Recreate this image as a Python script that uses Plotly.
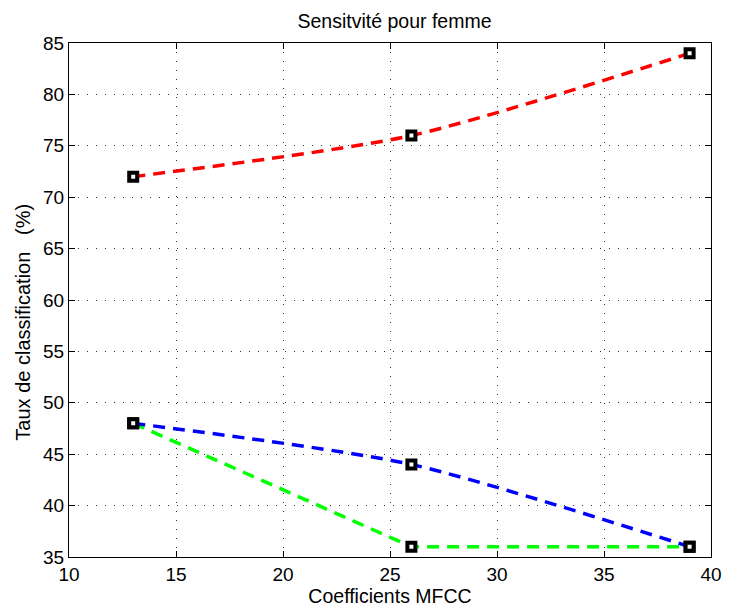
import plotly.graph_objects as go

mfcc = [13, 26, 39]
red_vals = [72, 76, 84]
blue_vals = [48, 44, 36]
green_vals = [48, 36, 36]

x_ticks = [10, 15, 20, 25, 30, 35, 40]
y_ticks = [35, 40, 45, 50, 55, 60, 65, 70, 75, 80, 85]

fig = go.Figure()

def add(vals, color, shape, smooth):
    fig.add_trace(go.Scatter(
        x=mfcc, y=vals, mode="lines",
        line=dict(color=color, width=3.5, dash="12px,8px", shape=shape, smoothing=smooth),
        showlegend=False, hoverinfo="skip"))

add(green_vals, "#00ff00", "linear", 0)
add(blue_vals, "#0000ff", "spline", 0.7)
add(red_vals, "#ff0000", "spline", 0.7)

for vals in [green_vals, blue_vals, red_vals]:
    fig.add_trace(go.Scatter(
        x=mfcc, y=vals, mode="markers",
        marker=dict(symbol="square", size=8, color="white", line=dict(color="black", width=4)),
        showlegend=False, hoverinfo="skip"))

font = "Liberation Sans, Arial"
axis_common = dict(
    showline=True, linecolor="black", linewidth=1.2, mirror="ticks",
    ticks="inside", ticklen=6, tickcolor="black",
    showgrid=True, gridcolor="rgba(0,0,0,0.8)", griddash="1px,8px", gridwidth=1,
    zeroline=False, tickfont=dict(family=font, size=19, color="black"),
)

fig.update_layout(
    width=734, height=611,
    margin=dict(l=69, r=14, t=43, b=54),
    paper_bgcolor="white", plot_bgcolor="white",
    title=dict(text="Sensitvité pour femme", x=(69 + 720) / 2 / 734, xanchor="center",
               y=1 - 21 / 611, yanchor="middle",
               font=dict(family=font, size=19.5, color="black")),
    xaxis=dict(range=[10, 40], tickvals=x_ticks,
               title=dict(text="Coefficients MFCC", standoff=0,
                          font=dict(family=font, size=19.5, color="black")),
               **axis_common),
    yaxis=dict(range=[35, 85], tickvals=y_ticks, **axis_common),
    annotations=[dict(
        text="Taux de classification\u00a0\u00a0\u00a0(%)", textangle=-90,
        xref="paper", yref="paper", x=-69 / 651 + 22 / 651, y=(557 - 322) / 514,
        xanchor="center", yanchor="middle", showarrow=False,
        font=dict(family=font, size=20, color="black"))],
)

fig.write_html("out.html")
